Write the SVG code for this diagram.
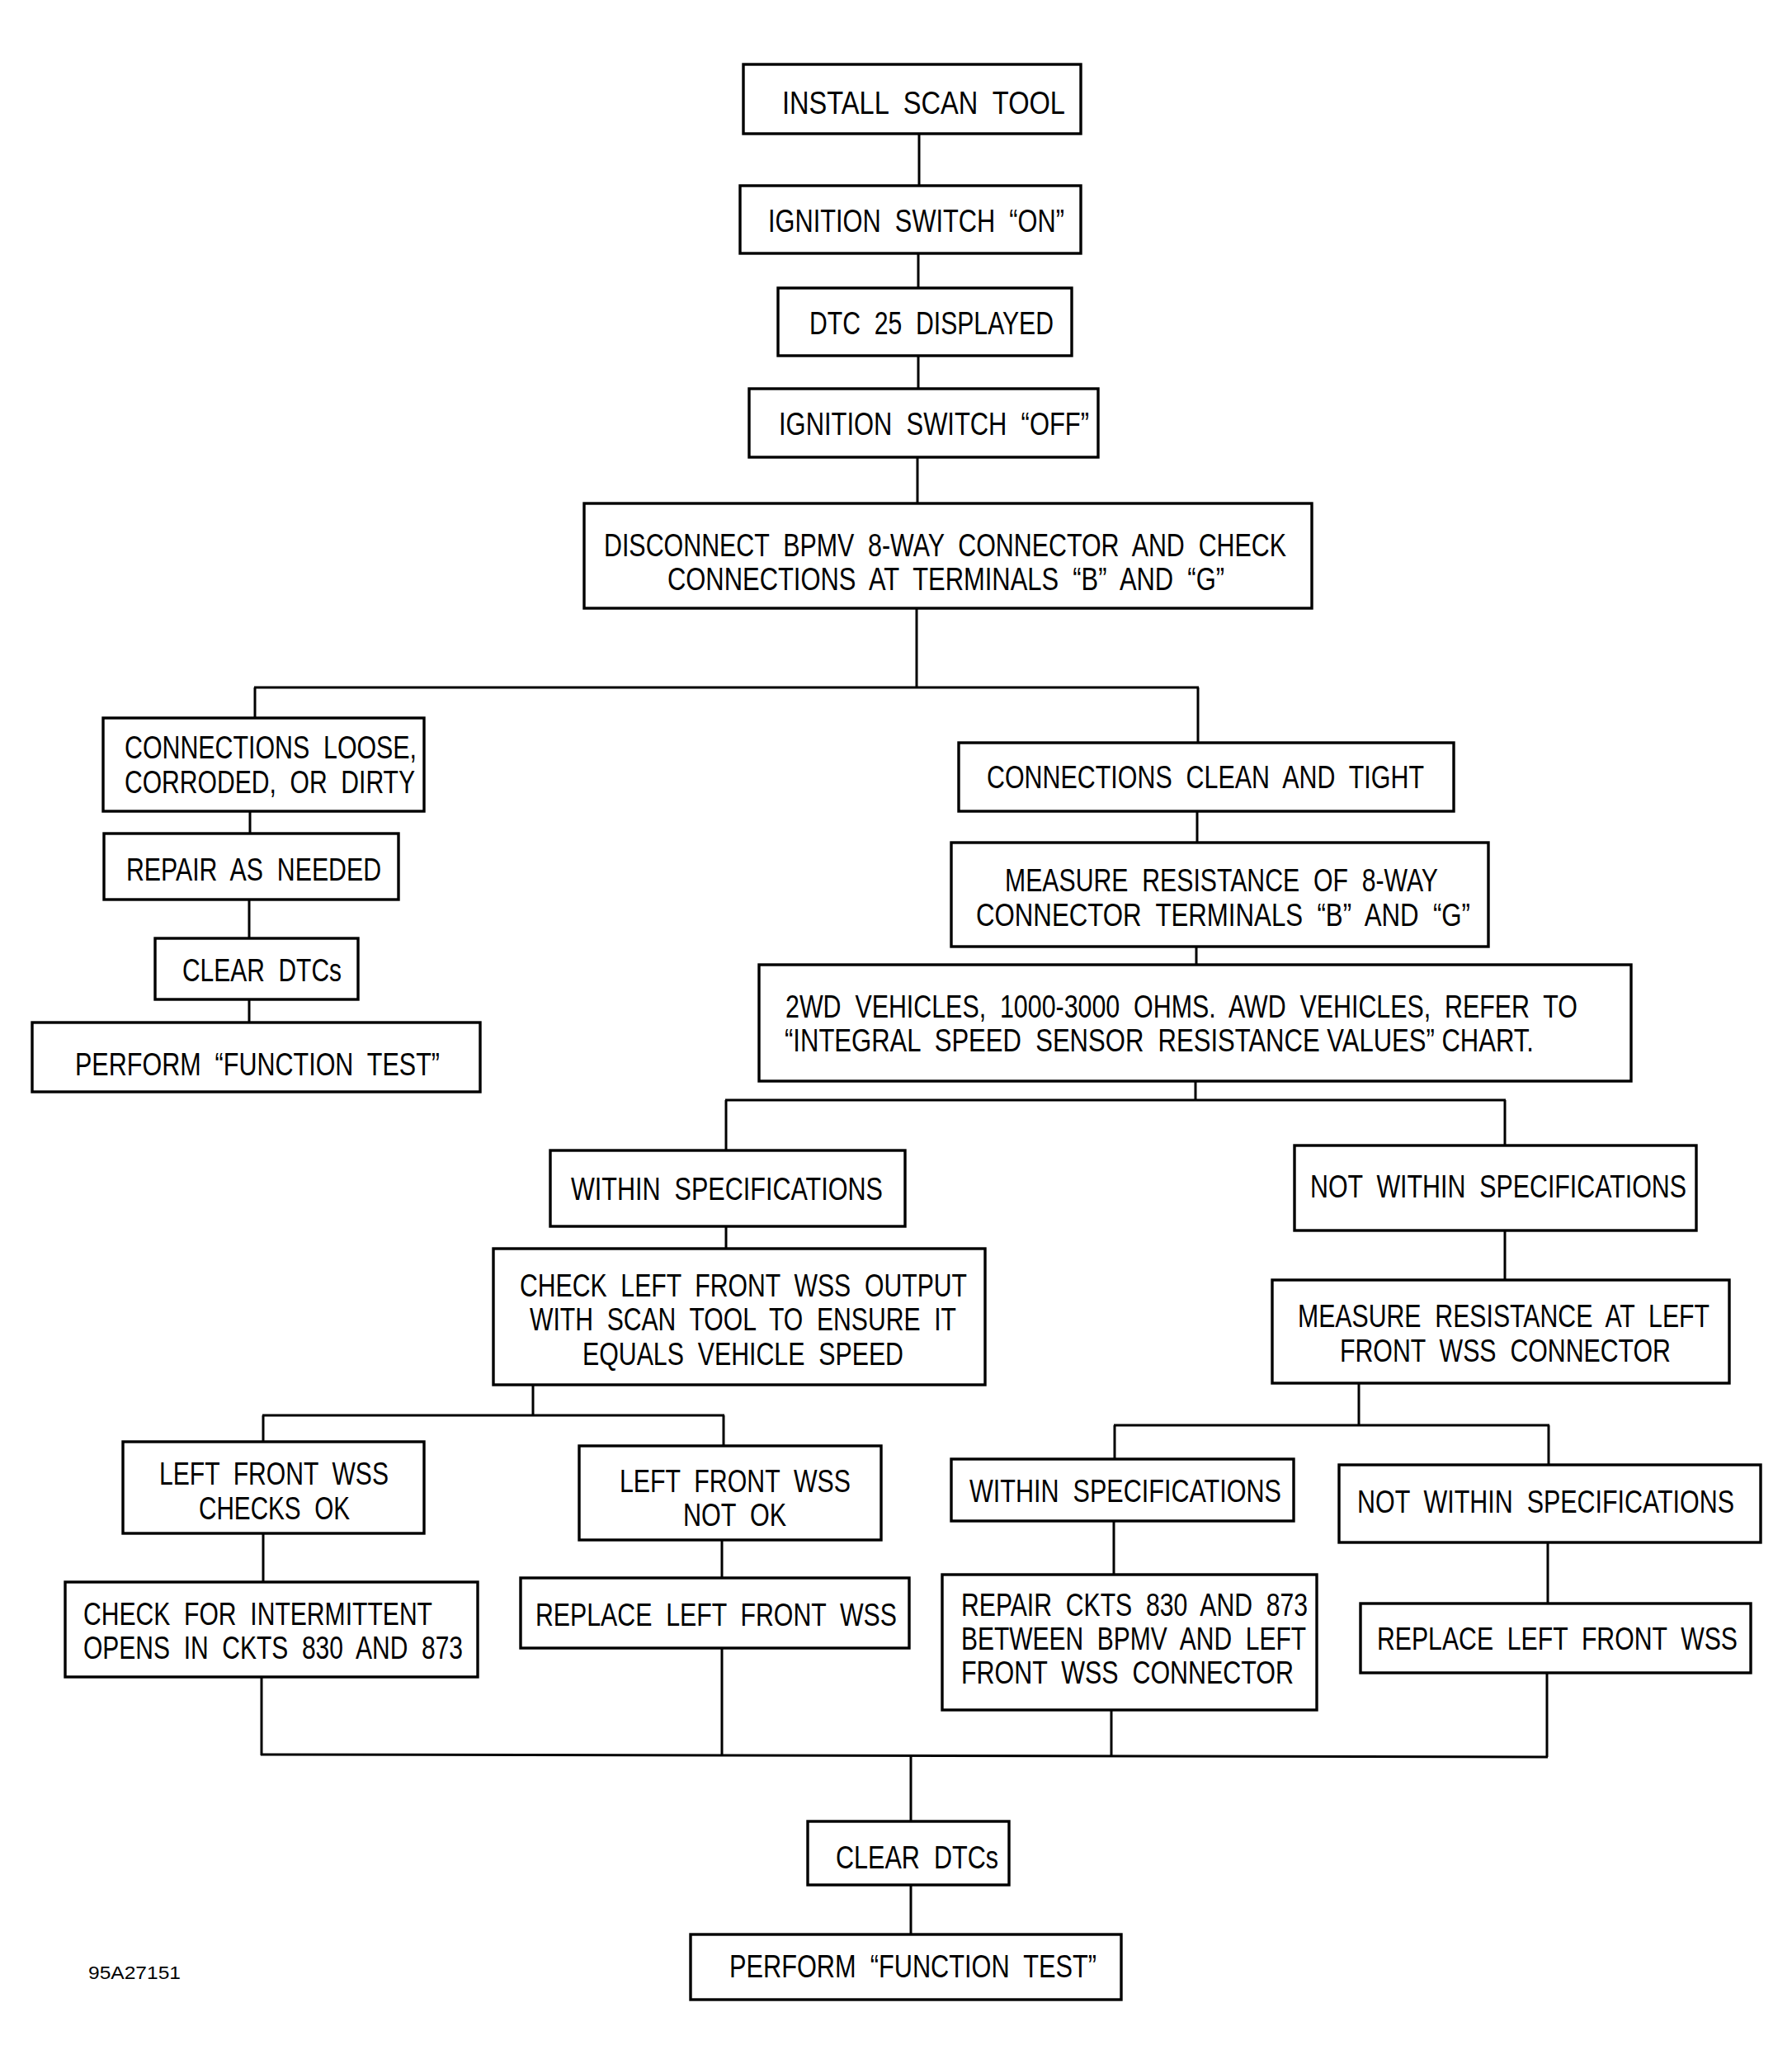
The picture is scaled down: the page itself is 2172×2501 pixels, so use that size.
<svg xmlns="http://www.w3.org/2000/svg" width="2172" height="2501" viewBox="0 0 2172 2501">
<style>
.b{fill:#fff;stroke:#000;stroke-width:3.4}
.t{font-family:"Liberation Sans","Arial",sans-serif;font-size:39px;fill:#000;white-space:pre}
.s{font-family:"Liberation Sans","Arial",sans-serif;font-size:22px;fill:#000}
#c line{stroke:#000;stroke-width:3}
</style>
<rect width="2172" height="2501" fill="#fff"/>
<g id="c">
<line x1="1114" y1="162" x2="1114" y2="225"/>
<line x1="1113" y1="307" x2="1113" y2="349"/>
<line x1="1113" y1="431" x2="1113" y2="471"/>
<line x1="1112" y1="554" x2="1112" y2="610"/>
<line x1="1111" y1="737" x2="1111" y2="833"/>
<line x1="308" y1="833" x2="1453" y2="833"/>
<line x1="309" y1="833" x2="309" y2="870"/>
<line x1="1452" y1="833" x2="1452" y2="900"/>
<line x1="303" y1="983" x2="303" y2="1010"/>
<line x1="302" y1="1090" x2="302" y2="1137"/>
<line x1="302" y1="1211" x2="302" y2="1239"/>
<line x1="1451" y1="983" x2="1451" y2="1021"/>
<line x1="1450" y1="1147" x2="1450" y2="1169"/>
<line x1="1449" y1="1310" x2="1449" y2="1333"/>
<line x1="879" y1="1333" x2="1825" y2="1333"/>
<line x1="880" y1="1333" x2="880" y2="1394"/>
<line x1="1824" y1="1333" x2="1824" y2="1388"/>
<line x1="880" y1="1486" x2="880" y2="1513"/>
<line x1="1824" y1="1491" x2="1824" y2="1551"/>
<line x1="646" y1="1678" x2="646" y2="1715"/>
<line x1="318" y1="1715" x2="878" y2="1715"/>
<line x1="319" y1="1715" x2="319" y2="1747"/>
<line x1="877" y1="1715" x2="877" y2="1752"/>
<line x1="319" y1="1858" x2="319" y2="1917"/>
<line x1="875" y1="1866" x2="875" y2="1912"/>
<line x1="1647" y1="1676" x2="1647" y2="1727"/>
<line x1="1350" y1="1727" x2="1878" y2="1727"/>
<line x1="1351" y1="1727" x2="1351" y2="1768"/>
<line x1="1877" y1="1727" x2="1877" y2="1775"/>
<line x1="1350" y1="1843" x2="1350" y2="1908"/>
<line x1="1876" y1="1869" x2="1876" y2="1943"/>
<line x1="317" y1="2032" x2="317" y2="2127"/>
<line x1="875" y1="1997" x2="875" y2="2127"/>
<line x1="1347" y1="2072" x2="1347" y2="2128"/>
<line x1="1875" y1="2027" x2="1875" y2="2129"/>
<line x1="316" y1="2126" x2="1876" y2="2129"/>
<line x1="1104" y1="2127" x2="1104" y2="2207"/>
<line x1="1104" y1="2284" x2="1104" y2="2344"/>
</g>
<g id="n1"><rect class="b" x="901" y="78" width="409" height="84"/><text class="t" x="948" y="138" textLength="343" lengthAdjust="spacingAndGlyphs">INSTALL  SCAN  TOOL</text></g>
<g id="n2"><rect class="b" x="897" y="225" width="413" height="82"/><text class="t" x="931" y="281" textLength="359" lengthAdjust="spacingAndGlyphs">IGNITION  SWITCH  “ON”</text></g>
<g id="n3"><rect class="b" x="943" y="349" width="356" height="82"/><text class="t" x="981" y="405" textLength="296" lengthAdjust="spacingAndGlyphs">DTC  25  DISPLAYED</text></g>
<g id="n4"><rect class="b" x="908" y="471" width="423" height="83"/><text class="t" x="944" y="527" textLength="376" lengthAdjust="spacingAndGlyphs">IGNITION  SWITCH  “OFF”</text></g>
<g id="n5"><rect class="b" x="708" y="610" width="882" height="127"/><text class="t" x="732" y="674" textLength="827" lengthAdjust="spacingAndGlyphs">DISCONNECT  BPMV  8-WAY  CONNECTOR  AND  CHECK</text><text class="t" x="809" y="715" textLength="675" lengthAdjust="spacingAndGlyphs">CONNECTIONS  AT  TERMINALS  “B”  AND  “G”</text></g>
<g id="n6"><rect class="b" x="125" y="870" width="389" height="113"/><text class="t" x="151" y="919" textLength="354" lengthAdjust="spacingAndGlyphs">CONNECTIONS  LOOSE,</text><text class="t" x="151" y="961" textLength="352" lengthAdjust="spacingAndGlyphs">CORRODED,  OR  DIRTY</text></g>
<g id="n7"><rect class="b" x="126" y="1010" width="357" height="80"/><text class="t" x="153" y="1067" textLength="309" lengthAdjust="spacingAndGlyphs">REPAIR  AS  NEEDED</text></g>
<g id="n8"><rect class="b" x="188" y="1137" width="246" height="74"/><text class="t" x="221" y="1189" textLength="193" lengthAdjust="spacingAndGlyphs">CLEAR  DTCs</text></g>
<g id="n9"><rect class="b" x="39" y="1239" width="543" height="84"/><text class="t" x="91" y="1303" textLength="442" lengthAdjust="spacingAndGlyphs">PERFORM  “FUNCTION  TEST”</text></g>
<g id="n10"><rect class="b" x="1162" y="900" width="600" height="83"/><text class="t" x="1196" y="955" textLength="530" lengthAdjust="spacingAndGlyphs">CONNECTIONS  CLEAN  AND  TIGHT</text></g>
<g id="n11"><rect class="b" x="1153" y="1021" width="651" height="126"/><text class="t" x="1218" y="1080" textLength="525" lengthAdjust="spacingAndGlyphs">MEASURE  RESISTANCE  OF  8-WAY</text><text class="t" x="1183" y="1122" textLength="599" lengthAdjust="spacingAndGlyphs">CONNECTOR  TERMINALS  “B”  AND  “G”</text></g>
<g id="n12"><rect class="b" x="920" y="1169" width="1057" height="141"/><text class="t" x="952" y="1233" textLength="960" lengthAdjust="spacingAndGlyphs">2WD  VEHICLES,  1000-3000  OHMS.  AWD  VEHICLES,  REFER  TO</text><text class="t" x="951" y="1274" textLength="908" lengthAdjust="spacingAndGlyphs">“INTEGRAL  SPEED  SENSOR  RESISTANCE VALUES” CHART.</text></g>
<g id="n13"><rect class="b" x="667" y="1394" width="430" height="92"/><text class="t" x="692" y="1454" textLength="378" lengthAdjust="spacingAndGlyphs">WITHIN  SPECIFICATIONS</text></g>
<g id="n14"><rect class="b" x="598" y="1513" width="596" height="165"/><text class="t" x="630" y="1571" textLength="542" lengthAdjust="spacingAndGlyphs">CHECK  LEFT  FRONT  WSS  OUTPUT</text><text class="t" x="642" y="1612" textLength="517" lengthAdjust="spacingAndGlyphs">WITH  SCAN  TOOL  TO  ENSURE  IT</text><text class="t" x="706" y="1654" textLength="389" lengthAdjust="spacingAndGlyphs">EQUALS  VEHICLE  SPEED</text></g>
<g id="n15"><rect class="b" x="1569" y="1388" width="487" height="103"/><text class="t" x="1588" y="1451" textLength="456" lengthAdjust="spacingAndGlyphs">NOT  WITHIN  SPECIFICATIONS</text></g>
<g id="n16"><rect class="b" x="1542" y="1551" width="554" height="125"/><text class="t" x="1573" y="1608" textLength="499" lengthAdjust="spacingAndGlyphs">MEASURE  RESISTANCE  AT  LEFT</text><text class="t" x="1624" y="1650" textLength="401" lengthAdjust="spacingAndGlyphs">FRONT  WSS  CONNECTOR</text></g>
<g id="n17"><rect class="b" x="149" y="1747" width="365" height="111"/><text class="t" x="193" y="1799" textLength="278" lengthAdjust="spacingAndGlyphs">LEFT  FRONT  WSS</text><text class="t" x="241" y="1841" textLength="183" lengthAdjust="spacingAndGlyphs">CHECKS  OK</text></g>
<g id="n18"><rect class="b" x="702" y="1752" width="366" height="114"/><text class="t" x="751" y="1808" textLength="280" lengthAdjust="spacingAndGlyphs">LEFT  FRONT  WSS</text><text class="t" x="828" y="1849" textLength="125" lengthAdjust="spacingAndGlyphs">NOT  OK</text></g>
<g id="n19"><rect class="b" x="79" y="1917" width="500" height="115"/><text class="t" x="101" y="1969" textLength="423" lengthAdjust="spacingAndGlyphs">CHECK  FOR  INTERMITTENT</text><text class="t" x="101" y="2010" textLength="460" lengthAdjust="spacingAndGlyphs">OPENS  IN  CKTS  830  AND  873</text></g>
<g id="n20"><rect class="b" x="631" y="1912" width="471" height="85"/><text class="t" x="649" y="1970" textLength="438" lengthAdjust="spacingAndGlyphs">REPLACE  LEFT  FRONT  WSS</text></g>
<g id="n21"><rect class="b" x="1153" y="1768" width="415" height="75"/><text class="t" x="1175" y="1820" textLength="378" lengthAdjust="spacingAndGlyphs">WITHIN  SPECIFICATIONS</text></g>
<g id="n22"><rect class="b" x="1623" y="1775" width="511" height="94"/><text class="t" x="1645" y="1833" textLength="457" lengthAdjust="spacingAndGlyphs">NOT  WITHIN  SPECIFICATIONS</text></g>
<g id="n23"><rect class="b" x="1142" y="1908" width="454" height="164"/><text class="t" x="1165" y="1958" textLength="420" lengthAdjust="spacingAndGlyphs">REPAIR  CKTS  830  AND  873</text><text class="t" x="1165" y="1999" textLength="418" lengthAdjust="spacingAndGlyphs">BETWEEN  BPMV  AND  LEFT</text><text class="t" x="1165" y="2040" textLength="403" lengthAdjust="spacingAndGlyphs">FRONT  WSS  CONNECTOR</text></g>
<g id="n24"><rect class="b" x="1649" y="1943" width="473" height="84"/><text class="t" x="1669" y="1999" textLength="437" lengthAdjust="spacingAndGlyphs">REPLACE  LEFT  FRONT  WSS</text></g>
<g id="n25"><rect class="b" x="979" y="2207" width="244" height="77"/><text class="t" x="1013" y="2264" textLength="197" lengthAdjust="spacingAndGlyphs">CLEAR  DTCs</text></g>
<g id="n26"><rect class="b" x="837" y="2344" width="522" height="79"/><text class="t" x="884" y="2396" textLength="445" lengthAdjust="spacingAndGlyphs">PERFORM  “FUNCTION  TEST”</text></g>
<text class="s" x="107" y="2398" textLength="112" lengthAdjust="spacingAndGlyphs">95A27151</text>
</svg>
